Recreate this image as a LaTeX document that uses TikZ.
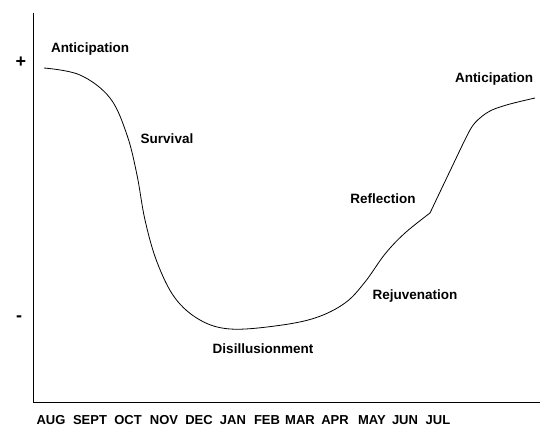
\documentclass[tikz,border=0pt]{standalone}
\usepackage{fontspec}
\setmainfont{Liberation Sans}
\usepackage{xcolor}

\tikzset{
    phase/.style={font=\bfseries\fontsize{13.5}{16}\selectfont, inner sep=0pt},
    month/.style={font=\bfseries\fontsize{13}{15}\selectfont, inner sep=0pt},
    sign/.style={font=\bfseries\fontsize{18}{20}\selectfont, inner sep=0pt}
}

\begin{document}
\begin{tikzpicture}[x=1pt, y=-1pt]

    \useasboundingbox (0,0) rectangle (557,439);

    % Axes
    \coordinate (top) at (33,13);
    \coordinate (origin) at (33,402);
    \coordinate (right) at (540,402);
    \draw[line width=0.9pt] (top) -- (origin) -- (right);

    \node[sign] (plus) at (21,62) {+};
    \node[sign] (minus) at (19,319) {-};

    % The curve down and up again
    \draw[line width=0.8pt] plot[smooth, tension=0.6] coordinates {
        (44,68) (80,75) (110,98) (127,135) (137,175) (145,220)
        (157,262) (175,298) (200,320) (230,329) (275,326) (315,318)
        (345,303) (365,282) (385,254) (405,233) (430,213)};
    \draw[line width=0.8pt] plot[smooth, tension=0.5] coordinates {
        (430,213) (450,171) (470,130) (480,118) (492,110) (510,104) (535,98)};

    % Phases
    \node[phase] (antstart) at (90,49) {Anticipation};
    \node[phase] (survival) at (167,139) {Survival};
    \node[phase] (disill) at (263,349) {Disillusionment};
    \node[phase] (rejuv) at (415,296) {Rejuvenation};
    \node[phase] (reflect) at (383,199) {Reflection};
    \node[phase] (antend) at (494,79) {Anticipation};

    % Months
    \node[month] (aug) at (51,420) {AUG};
    \node[month] (sep) at (90,420) {SEPT};
    \node[month] (oct) at (128,420) {OCT};
    \node[month] (nov) at (164,420) {NOV};
    \node[month] (dec) at (199,420) {DEC};
    \node[month] (jan) at (233,420) {JAN};
    \node[month] (feb) at (267,420) {FEB};
    \node[month] (mar) at (300,420) {MAR};
    \node[month] (apr) at (335,420) {APR};
    \node[month] (may) at (372,420) {MAY};
    \node[month] (jun) at (405,420) {JUN};
    \node[month] (jul) at (438,420) {JUL};

\end{tikzpicture}
\end{document}
